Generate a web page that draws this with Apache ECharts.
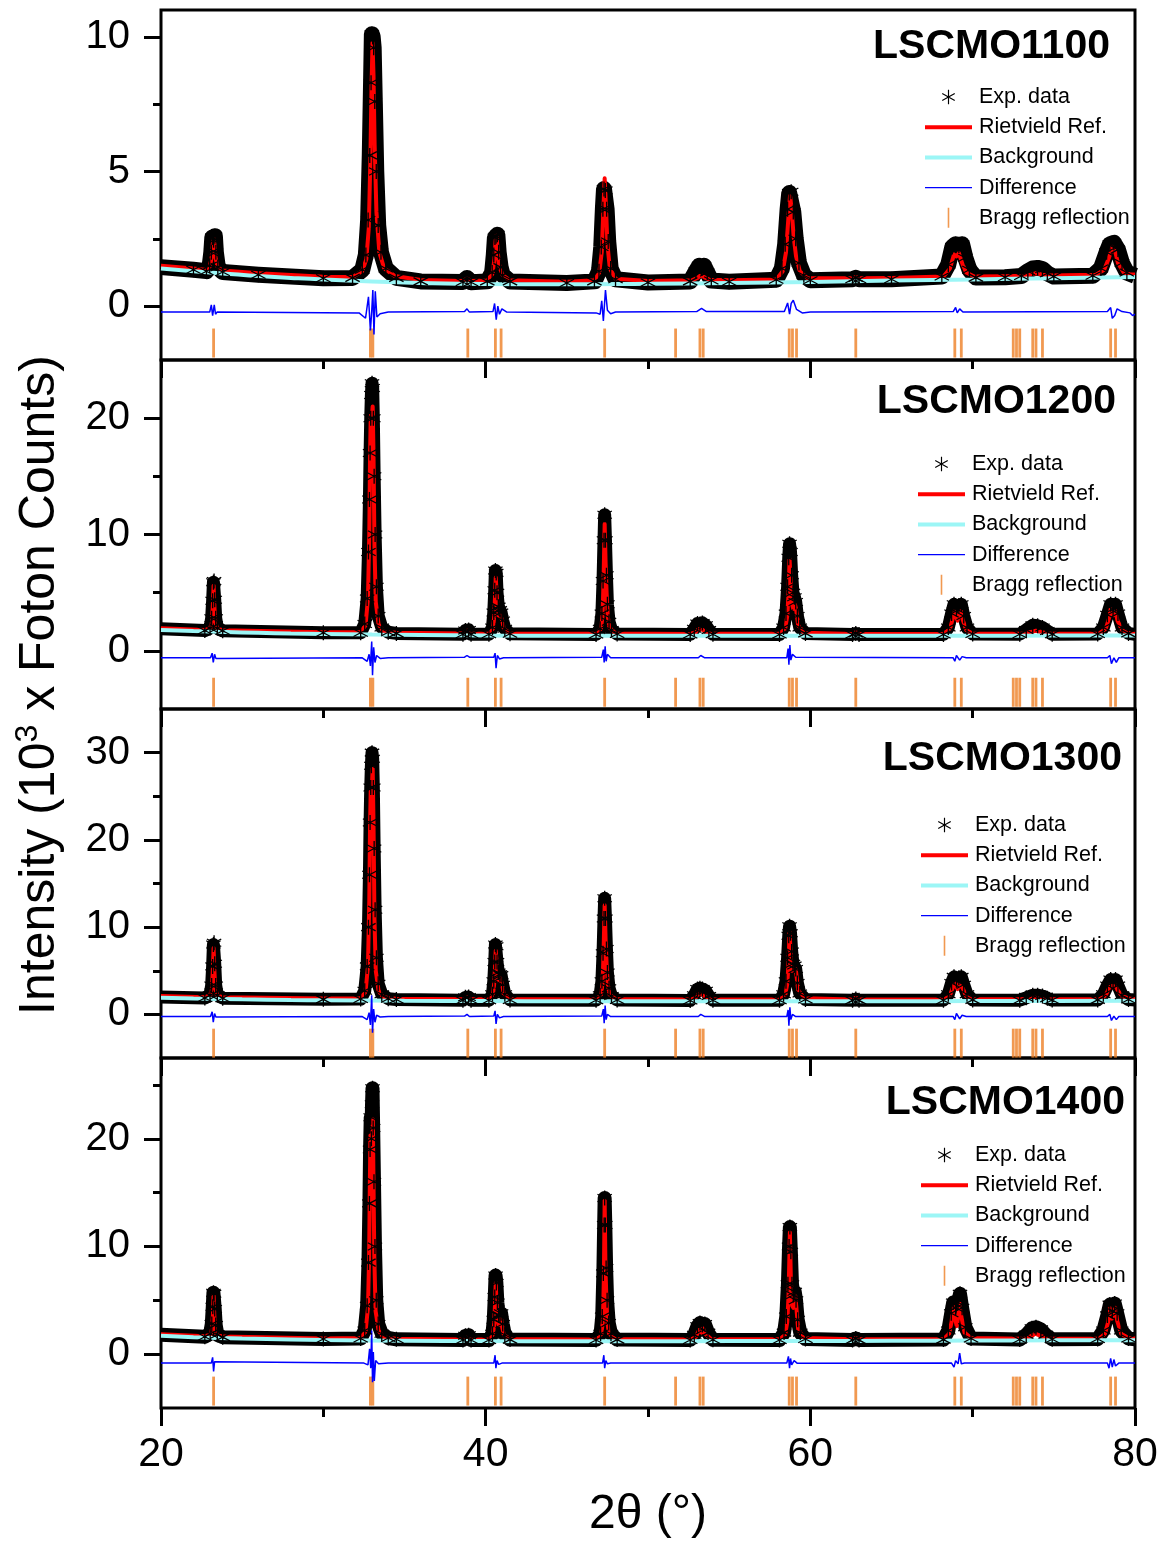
<!DOCTYPE html>
<html>
<head>
<meta charset="utf-8">
<script src="https://cdn.jsdelivr.net/npm/echarts@6/dist/echarts.min.js"></script>
<style>html,body{margin:0;padding:0;background:#fff}#c{width:1163px;height:1542px}</style>
</head>
<body>
<div id="c"></div>
<script>
// ---------------- DATA ----------------
const panels = ['LSCMO1100', 'LSCMO1200', 'LSCMO1300', 'LSCMO1400'];
const yMin = [-2, -5, -5, -5];
const yMax = [11, 25, 35, 27.5];
const yMajorTicks = [[0, 5, 10], [0, 10, 20], [0, 10, 20, 30], [0, 10, 20]];
const yMinorTicks = [[2.5, 7.5], [5, 15], [5, 15, 25], [5, 15, 25]];
const braggPos = [23.24, 32.9, 33.05, 38.9, 40.6, 40.95, 47.33, 51.7, 53.2, 53.4, 58.7, 58.9, 59.15, 62.8,
  68.9, 69.3, 72.5, 72.7, 72.9, 73.7, 73.9, 74.3, 78.5, 78.8];
const braggLevel = [-1.37, -3.56, -3.3, -3.43];

const bg1100 = [[20,1.40],[22,1.30],[24,1.20],[26,1.12],[28,1.05],[30,0.99],[33,0.92],[36,0.86],[40,0.82],[45,0.81],[50,0.83],[55,0.86],[60,0.90],[65,0.95],[70,0.99],[75,1.04],[80,1.08]];
const calc1100 = [[20,1.50],[22,1.40],[22.8,1.34],[23.0,1.45],[23.12,1.80],[23.19,2.30],[23.24,2.53],[23.29,2.30],[23.36,1.80],[23.48,1.45],[23.8,1.32],
[26,1.22],[30,1.09],[31.8,1.08],[32.4,1.30],[32.65,1.75],[32.8,2.9],[32.9,5.5],[32.97,8.2],[33.03,9.78],[33.09,8.6],[33.16,6.0],[33.27,3.5],[33.45,2.0],[33.75,1.4],[34.4,1.12],
[36,0.97],[38.6,0.93],[38.85,1.03],[39.1,0.93],
[40.1,0.95],[40.42,1.2],[40.54,1.75],[40.61,2.4],[40.66,2.64],[40.72,2.25],[40.8,1.6],[40.92,1.35],[41.05,1.15],[41.5,0.96],
[45,0.91],[46.7,0.96],[47.0,1.25],[47.15,2.0],[47.25,3.6],[47.33,4.75],[47.41,3.7],[47.5,2.3],[47.65,1.4],[48.0,1.02],
[50,0.93],[52.7,0.96],[53.05,1.05],[53.25,1.15],[53.45,1.08],[53.8,0.98],
[55,0.96],[57.9,0.99],[58.3,1.3],[58.5,2.0],[58.65,3.3],[58.75,4.1],[58.85,3.6],[58.97,2.6],[59.12,1.85],[59.35,1.3],[59.8,1.05],
[62.6,1.04],[62.8,1.08],[63.0,1.04],
[65,1.05],[68.2,1.1],[68.6,1.4],[68.85,1.92],[69.0,1.85],[69.15,1.97],[69.35,1.6],[69.6,1.25],[70.1,1.1],
[72,1.11],[73.2,1.13],[73.6,1.18],[73.9,1.22],[74.3,1.17],[74.8,1.14],
[77.6,1.17],[78.1,1.35],[78.4,1.8],[78.6,2.2],[78.75,2.1],[78.95,1.6],[79.3,1.25],[79.7,1.18],[80,1.18]];
const exp1100 = [[20,1.45],[22,1.35],[22.8,1.30],[23.0,1.50],[23.1,2.0],[23.16,2.55],[23.24,2.45],[23.32,2.6],[23.38,2.0],[23.5,1.45],[23.8,1.27],
[26,1.17],[30,1.04],[31.8,1.05],[32.4,1.35],[32.62,1.9],[32.76,3.2],[32.86,5.6],[32.94,8.3],[32.99,10.1],[33.04,10.0],[33.1,9.6],[33.17,7.6],[33.26,5.0],[33.38,3.0],[33.55,2.0],[33.85,1.4],[34.5,1.05],
[36,0.92],[38.6,0.90],[38.85,1.05],[39.1,0.89],
[40.1,0.92],[40.4,1.25],[40.5,1.9],[40.57,2.55],[40.64,2.6],[40.72,2.65],[40.8,2.0],[40.92,1.45],[41.05,1.15],[41.5,0.92],
[45,0.86],[46.7,0.92],[46.98,1.3],[47.12,2.2],[47.22,3.6],[47.29,4.35],[47.37,4.3],[47.45,3.6],[47.55,2.4],[47.7,1.4],[48.0,1.0],
[50,0.88],[52.6,0.92],[52.95,1.3],[53.15,1.5],[53.3,1.4],[53.45,1.5],[53.65,1.25],[53.9,0.95],
[55,0.91],[57.9,0.98],[58.25,1.4],[58.45,2.3],[58.6,3.6],[58.7,4.2],[58.82,4.25],[58.95,3.5],[59.1,2.5],[59.3,1.6],[59.6,1.15],[60.0,0.96],
[62.6,1.0],[62.8,1.05],[63.0,1.0],
[65,1.0],[68.1,1.1],[68.5,1.55],[68.75,2.2],[68.95,2.3],[69.15,2.25],[69.35,2.3],[69.55,1.8],[69.8,1.35],[70.2,1.06],
[72,1.07],[73.0,1.12],[73.4,1.3],[73.7,1.4],[74.0,1.42],[74.3,1.38],[74.6,1.22],[75.0,1.1],
[77.4,1.13],[77.9,1.4],[78.25,2.0],[78.45,2.3],[78.7,2.35],[78.95,2.1],[79.2,1.6],[79.5,1.25],[80,1.13]];
const diff1100 = [[20,-0.22],[23.0,-0.22],[23.1,0.05],[23.18,-0.35],[23.28,0.05],[23.36,-0.3],[23.45,-0.22],[32.2,-0.25],[32.6,-0.45],[32.78,0.35],[32.9,-0.9],[32.98,-0.2],[33.05,0.6],[33.12,-1.05],[33.2,0.55],[33.3,-0.4],[33.5,-0.28],[34,-0.22],[38.7,-0.2],[38.85,-0.1],[39,-0.22],[40.45,-0.2],[40.55,0.1],[40.65,-0.5],[40.75,0.0],[40.85,-0.3],[41.0,-0.1],[41.3,-0.22],[46.8,-0.25],[47.05,-0.3],[47.15,0.2],[47.25,-0.55],[47.38,0.6],[47.5,-0.15],[47.7,-0.28],[48,-0.22],[53.0,-0.2],[53.3,-0.08],[53.6,-0.2],[58.4,-0.2],[58.6,0.12],[58.72,-0.3],[58.82,0.1],[58.95,0.22],[59.15,-0.12],[59.5,-0.25],[60,-0.22],[68.8,-0.2],[68.95,-0.05],[69.05,-0.25],[69.2,-0.1],[69.4,-0.22],[78.3,-0.2],[78.5,-0.05],[78.6,-0.45],[78.75,-0.35],[78.9,-0.1],[79.2,-0.2],[79.7,-0.25],[79.85,-0.35],[80,-0.3]];

const bg1200 = [[20,1.80],[22,1.70],[24,1.62],[26,1.55],[28,1.49],[30,1.45],[33,1.40],[36,1.36],[40,1.32],[45,1.30],[50,1.29],[55,1.29],[60,1.29],[65,1.30],[70,1.30],[75,1.31],[80,1.32]];
const calc1200 = [[20,1.95],[22.7,1.79],[23.04,1.95],[23.14,2.6],[23.19,3.8],[23.24,5.6],[23.29,3.8],[23.34,2.6],[23.44,1.95],[23.8,1.76],
[30,1.60],[32.3,1.6],[32.6,2.2],[32.75,4.5],[32.83,10],[32.88,17],[32.92,20.2],[32.96,19.5],[33.0,20.3],[33.04,21.0],[33.09,17],[33.15,9],[33.23,4.2],[33.4,2.3],[33.7,1.65],[34.5,1.55],
[38.6,1.48],[38.85,1.75],[39.1,1.48],
[40.2,1.47],[40.45,1.9],[40.53,3.0],[40.58,4.8],[40.62,6.3],[40.67,5.2],[40.73,3.6],[40.8,3.0],[40.88,3.2],[40.95,3.2],[41.02,2.6],[41.12,1.9],[41.5,1.5],
[46.8,1.46],[47.1,1.85],[47.2,3.0],[47.26,6.0],[47.33,10.9],[47.39,7.5],[47.45,5.0],[47.52,3.0],[47.62,2.0],[48.0,1.5],
[52.6,1.45],[52.95,1.6],[53.1,1.9],[53.2,1.95],[53.3,1.85],[53.4,1.9],[53.55,1.65],[53.9,1.46],
[58.1,1.46],[58.45,1.9],[58.58,3.0],[58.66,5.0],[58.72,7.9],[58.79,6.0],[58.87,4.0],[58.95,3.6],[59.05,4.0],[59.12,3.6],[59.25,2.2],[59.6,1.55],
[62.6,1.45],[62.8,1.6],[63.0,1.45],
[68.2,1.46],[68.6,1.9],[68.78,2.8],[68.88,3.4],[68.98,2.9],[69.07,2.6],[69.17,3.2],[69.27,3.4],[69.38,2.7],[69.6,1.8],[70,1.5],
[73.0,1.47],[73.5,1.6],[73.9,1.72],[74.3,1.6],[74.8,1.47],
[77.8,1.5],[78.2,1.9],[78.4,2.8],[78.5,3.6],[78.62,3.0],[78.7,2.9],[78.8,3.4],[78.92,2.6],[79.2,1.8],[79.7,1.5],[80,1.47]];
const exp1200 = [[20,1.90],[22.7,1.74],[23.02,1.95],[23.12,2.8],[23.18,4.3],[23.23,5.9],[23.27,6.0],[23.31,4.4],[23.37,2.8],[23.47,1.95],[23.8,1.72],
[30,1.55],[32.3,1.55],[32.55,2.3],[32.7,4.5],[32.78,8.5],[32.84,13],[32.88,17],[32.92,20],[32.96,22.0],[33.0,23.0],[33.04,22.6],[33.08,20],[33.13,15],[33.19,10],[33.27,5.5],[33.38,3.0],[33.6,2.0],[34.0,1.6],[34.5,1.5],
[38.6,1.43],[38.75,1.75],[38.95,1.8],[39.1,1.43],
[40.2,1.42],[40.42,2.0],[40.5,3.3],[40.56,5.2],[40.6,6.9],[40.65,6.7],[40.7,5.0],[40.78,3.8],[40.87,3.5],[40.95,3.3],[41.05,2.6],[41.18,1.9],[41.5,1.46],
[46.8,1.41],[47.05,1.9],[47.16,3.2],[47.23,6.0],[47.29,9.5],[47.33,11.7],[47.38,9.5],[47.44,6.5],[47.5,4.0],[47.6,2.5],[47.75,1.8],[48.1,1.45],
[52.6,1.40],[52.85,1.9],[53.05,2.35],[53.2,2.3],[53.35,2.4],[53.55,2.2],[53.75,1.8],[54.0,1.42],
[58.1,1.41],[58.35,2.0],[58.5,3.2],[58.6,5.5],[58.67,8.0],[58.72,9.2],[58.78,8.5],[58.85,6.5],[58.93,5.0],[59.02,4.6],[59.1,4.2],[59.2,3.0],[59.35,2.0],[59.7,1.5],
[62.6,1.41],[62.8,1.5],[63.0,1.41],
[68.2,1.41],[68.5,2.0],[68.7,3.2],[68.85,4.0],[69.0,3.6],[69.15,3.9],[69.3,4.0],[69.45,3.0],[69.65,2.0],[70.0,1.45],
[72.9,1.43],[73.3,1.8],[73.7,2.2],[74.0,2.15],[74.3,2.0],[74.6,1.7],[74.9,1.43],
[77.7,1.45],[78.05,2.0],[78.3,3.1],[78.5,4.0],[78.65,3.6],[78.8,4.0],[78.95,3.2],[79.2,2.0],[79.6,1.5],[80,1.42]];
const diff1200 = [[20,-0.6],[23.05,-0.6],[23.15,-0.2],[23.22,-1.0],[23.3,-0.3],[23.38,-0.65],[32.4,-0.6],[32.7,-0.9],[32.82,-0.3],[32.9,-1.3],[32.98,0.8],[33.03,-2.1],[33.1,0.3],[33.18,-1.0],[33.28,-0.4],[33.5,-0.65],[34,-0.6],[38.7,-0.55],[38.85,-0.4],[39,-0.55],[40.5,-0.55],[40.58,-0.2],[40.64,-1.5],[40.72,-0.4],[40.85,-0.7],[41.1,-0.6],[47.15,-0.55],[47.25,0.1],[47.3,-1.0],[47.36,0.4],[47.42,-0.9],[47.5,-0.3],[47.7,-0.6],[53.1,-0.6],[53.25,-0.4],[53.5,-0.6],[58.55,-0.6],[58.63,0.2],[58.68,-1.2],[58.74,0.5],[58.8,-0.8],[58.9,-0.3],[59.1,-0.55],[68.8,-0.6],[68.9,-0.9],[69.0,-0.4],[69.2,-0.8],[69.35,-0.5],[69.6,-0.6],[78.3,-0.6],[78.45,-0.4],[78.55,-1.1],[78.7,-0.6],[78.85,-1.0],[79.0,-0.6],[80,-0.6]];

const bg1300 = [[20,1.90],[22,1.82],[25,1.72],[28,1.65],[30,1.62],[35,1.56],[40,1.52],[45,1.50],[50,1.50],[55,1.50],[60,1.50],[65,1.51],[70,1.52],[75,1.53],[80,1.55]];
const calc1300 = [[20,2.10],[22.7,1.97],[23.04,2.2],[23.14,3.1],[23.19,5.0],[23.24,7.6],[23.29,5.0],[23.34,3.1],[23.44,2.2],[23.8,1.95],
[30,1.82],[32.3,1.85],[32.6,2.6],[32.75,5.5],[32.83,13],[32.88,22],[32.92,25.7],[32.96,25],[33.0,26.5],[33.04,28.2],[33.09,22],[33.15,11],[33.23,5.0],[33.4,2.7],[33.7,1.95],[34.5,1.78],
[38.6,1.72],[38.85,2.0],[39.1,1.72],
[40.2,1.72],[40.45,2.3],[40.53,3.6],[40.58,5.6],[40.62,7.3],[40.67,6.0],[40.73,4.4],[40.8,3.8],[40.88,4.3],[40.95,4.5],[41.02,3.4],[41.12,2.3],[41.5,1.75],
[46.8,1.71],[47.1,2.2],[47.2,3.5],[47.26,7.0],[47.33,12.5],[47.39,8.5],[47.45,5.8],[47.52,3.5],[47.62,2.3],[48.0,1.75],
[52.6,1.70],[52.95,1.95],[53.1,2.35],[53.2,2.4],[53.3,2.3],[53.4,2.4],[53.55,2.05],[53.9,1.72],
[58.1,1.71],[58.45,2.2],[58.58,3.5],[58.66,6.0],[58.72,9.4],[58.79,7.0],[58.87,5.0],[58.95,4.8],[59.05,5.6],[59.12,4.9],[59.25,2.8],[59.6,1.85],
[62.6,1.7],[62.8,1.9],[63.0,1.7],
[68.2,1.72],[68.6,2.2],[68.78,3.1],[68.88,3.7],[68.98,3.2],[69.07,2.9],[69.17,3.5],[69.27,3.7],[69.38,3.0],[69.6,2.1],[70,1.75],
[73.0,1.73],[73.5,1.8],[73.9,1.9],[74.3,1.8],[74.8,1.74],
[77.8,1.76],[78.2,2.2],[78.4,3.0],[78.5,3.4],[78.62,3.1],[78.7,3.0],[78.8,3.4],[78.92,2.8],[79.2,2.1],[79.7,1.78],[80,1.77]];
const exp1300 = [[20,2.0],[22.7,1.88],[23.02,2.2],[23.12,3.3],[23.18,5.5],[23.23,8.0],[23.27,8.2],[23.31,5.8],[23.37,3.3],[23.47,2.2],[23.8,1.86],
[30,1.72],[32.3,1.75],[32.55,2.7],[32.7,5.5],[32.78,10],[32.84,16],[32.88,22],[32.92,26],[32.96,28.5],[33.0,30.0],[33.04,29.3],[33.08,26],[33.13,19],[33.19,12],[33.27,6.5],[33.38,3.5],[33.6,2.3],[34.0,1.8],[34.5,1.7],
[38.6,1.63],[38.75,1.95],[38.95,2.0],[39.1,1.63],
[40.2,1.62],[40.42,2.3],[40.5,3.8],[40.56,6.0],[40.6,8.0],[40.65,7.8],[40.7,6.0],[40.78,4.8],[40.87,4.6],[40.95,4.5],[41.05,3.4],[41.18,2.3],[41.5,1.65],
[46.8,1.61],[47.05,2.2],[47.16,3.8],[47.23,7.0],[47.29,11.0],[47.33,13.3],[47.38,11.0],[47.44,7.5],[47.5,4.8],[47.6,3.0],[47.75,2.1],[48.1,1.65],
[52.6,1.60],[52.85,2.2],[53.05,2.9],[53.2,3.0],[53.35,2.9],[53.55,2.7],[53.75,2.1],[54.0,1.62],
[58.1,1.61],[58.35,2.3],[58.5,3.8],[58.6,6.5],[58.67,9.0],[58.72,10.1],[58.78,9.3],[58.85,7.2],[58.93,5.8],[59.02,5.6],[59.1,5.2],[59.2,3.6],[59.35,2.4],[59.7,1.7],
[62.6,1.61],[62.8,1.75],[63.0,1.61],
[68.2,1.62],[68.5,2.3],[68.7,3.6],[68.85,4.3],[69.0,3.9],[69.15,4.2],[69.3,4.3],[69.45,3.4],[69.65,2.3],[70.0,1.66],
[72.9,1.63],[73.3,1.9],[73.7,2.2],[74.0,2.2],[74.3,2.1],[74.6,1.85],[74.9,1.64],
[77.7,1.66],[78.05,2.3],[78.3,3.3],[78.5,4.0],[78.65,3.7],[78.8,4.0],[78.95,3.3],[79.2,2.2],[79.6,1.7],[80,1.65]];
const diff1300 = [[20,-0.25],[23.05,-0.25],[23.15,0.3],[23.22,-0.9],[23.3,0.1],[23.38,-0.3],[32.4,-0.25],[32.7,-0.6],[32.82,0.2],[32.9,-1.2],[32.98,2.2],[33.03,-2.1],[33.1,0.6],[33.18,-0.9],[33.28,-0.1],[33.5,-0.3],[34,-0.25],[38.7,-0.2],[38.85,0.0],[39,-0.25],[40.5,-0.2],[40.58,0.4],[40.64,-1.1],[40.72,0.0],[40.85,-0.4],[41.1,-0.25],[47.15,-0.2],[47.25,0.6],[47.3,-1.0],[47.36,1.0],[47.42,-0.6],[47.5,0.0],[47.7,-0.25],[53.1,-0.25],[53.25,0.0],[53.5,-0.25],[58.55,-0.25],[58.63,0.5],[58.68,-1.3],[58.74,0.8],[58.8,-0.6],[58.9,0.0],[59.1,-0.25],[68.8,-0.25],[68.9,-0.6],[69.0,0.1],[69.2,-0.5],[69.35,-0.1],[69.6,-0.25],[78.3,-0.25],[78.45,0.0],[78.55,-0.7],[78.7,-0.2],[78.85,-0.6],[79.0,-0.25],[80,-0.25]];

const bg1400 = [[20,1.70],[22,1.58],[25,1.45],[28,1.36],[30,1.31],[35,1.25],[40,1.21],[45,1.20],[50,1.20],[55,1.21],[60,1.22],[65,1.24],[70,1.26],[75,1.28],[80,1.30]];
const calc1400 = [[20,1.85],[22.7,1.66],[23.06,1.8],[23.15,2.5],[23.2,3.7],[23.24,5.5],[23.28,3.7],[23.33,2.5],[23.42,1.8],[23.8,1.63],
[30,1.46],[32.3,1.5],[32.6,2.1],[32.75,4.3],[32.82,9],[32.86,15],[32.9,20.3],[32.94,19.5],[32.98,17],[33.02,19],[33.05,21.8],[33.09,16],[33.14,9],[33.22,4.0],[33.4,2.2],[33.7,1.55],[34.5,1.42],
[38.6,1.37],[38.85,1.6],[39.1,1.37],
[40.2,1.37],[40.45,1.8],[40.53,2.9],[40.58,4.8],[40.62,6.6],[40.66,5.0],[40.72,3.4],[40.8,2.7],[40.88,3.2],[40.95,3.4],[41.02,2.5],[41.12,1.8],[41.5,1.4],
[46.8,1.36],[47.12,1.8],[47.22,3.0],[47.28,7.0],[47.33,14.3],[47.38,8.0],[47.44,5.0],[47.5,2.9],[47.6,1.9],[48.0,1.4],
[52.6,1.36],[52.95,1.6],[53.1,2.1],[53.2,2.4],[53.3,2.0],[53.4,2.4],[53.52,1.9],[53.9,1.38],
[58.1,1.38],[58.45,1.8],[58.58,3.0],[58.66,5.5],[58.74,11.3],[58.8,7.0],[58.88,4.5],[58.96,4.3],[59.06,5.5],[59.13,4.5],[59.25,2.3],[59.6,1.5],
[62.6,1.38],[62.8,1.5],[63.0,1.38],
[68.2,1.4],[68.55,1.9],[68.7,3.0],[68.8,4.4],[68.9,3.4],[69.02,2.6],[69.12,3.6],[69.2,4.7],[69.3,3.5],[69.5,2.0],[69.9,1.5],
[73.0,1.42],[73.5,1.6],[73.85,1.9],[74.2,1.7],[74.7,1.44],
[77.8,1.46],[78.15,1.9],[78.35,3.0],[78.45,4.3],[78.58,3.3],[78.68,3.2],[78.8,4.3],[78.9,3.1],[79.15,1.9],[79.6,1.5],[80,1.45]];
const exp1400 = [[20,1.80],[22.7,1.61],[23.03,1.9],[23.13,2.8],[23.19,4.4],[23.23,5.7],[23.27,5.6],[23.31,4.2],[23.37,2.7],[23.47,1.8],[23.8,1.58],
[30,1.41],[32.3,1.45],[32.55,2.2],[32.7,4.5],[32.78,8.5],[32.84,14],[32.88,19],[32.92,22],[32.96,20],[33.0,23.2],[33.03,24.7],[33.07,21],[33.12,16],[33.18,10],[33.26,5.0],[33.38,2.8],[33.6,1.9],[34.0,1.5],[34.5,1.38],
[38.6,1.32],[38.75,1.7],[38.95,1.75],[39.1,1.32],
[40.2,1.32],[40.42,1.9],[40.5,3.2],[40.56,5.3],[40.61,7.3],[40.66,6.6],[40.72,4.8],[40.8,3.6],[40.88,3.6],[40.95,3.8],[41.05,2.8],[41.18,1.8],[41.5,1.35],
[46.8,1.31],[47.08,1.9],[47.18,3.5],[47.25,7.5],[47.3,12],[47.33,14.5],[47.37,12],[47.42,8.0],[47.48,5.0],[47.58,2.9],[47.72,1.9],[48.1,1.35],
[52.6,1.31],[52.85,1.8],[53.05,2.6],[53.2,2.9],[53.35,2.7],[53.5,2.8],[53.7,2.0],[54.0,1.33],
[58.1,1.32],[58.38,2.0],[58.52,3.5],[58.62,6.5],[58.69,10],[58.74,11.8],[58.8,9.5],[58.87,6.5],[58.95,5.5],[59.04,5.8],[59.12,5.0],[59.22,3.2],[59.38,2.0],[59.7,1.4],
[62.6,1.32],[62.8,1.45],[63.0,1.32],
[68.2,1.35],[68.5,2.2],[68.68,3.8],[68.8,4.8],[68.95,4.3],[69.1,4.8],[69.22,5.6],[69.35,4.3],[69.55,2.5],[69.9,1.45],
[72.9,1.36],[73.3,1.8],[73.65,2.4],[73.9,2.5],[74.2,2.3],[74.5,1.8],[74.9,1.38],
[77.7,1.4],[78.05,2.2],[78.3,3.6],[78.45,4.6],[78.6,4.0],[78.75,4.7],[78.9,3.8],[79.15,2.2],[79.6,1.45],[80,1.39]];
const diff1400 = [[20,-0.83],[23.1,-0.83],[23.18,-0.3],[23.24,-1.6],[23.3,-0.7],[23.4,-0.85],[32.5,-0.83],[32.75,-1.0],[32.85,0.5],[32.92,-1.3],[32.98,2.2],[33.03,-2.6],[33.08,0.2],[33.14,-2.5],[33.22,-0.6],[33.4,-0.9],[34,-0.83],[40.5,-0.83],[40.58,-0.1],[40.63,-1.3],[40.7,-0.6],[40.8,-0.95],[41.0,-0.83],[47.2,-0.83],[47.28,-0.1],[47.33,-1.3],[47.4,-0.6],[47.5,-0.9],[47.7,-0.83],[58.55,-0.83],[58.65,-0.2],[58.72,-1.3],[58.78,-0.4],[58.85,-1.0],[59.0,-0.6],[59.2,-0.85],[68.7,-0.83],[68.85,-1.2],[68.95,-0.6],[69.1,-0.9],[69.2,0.1],[69.3,-0.9],[69.5,-0.83],[78.3,-0.83],[78.4,-1.3],[78.5,-0.4],[78.6,-1.2],[78.7,-0.5],[78.8,-1.1],[79.0,-0.83],[80,-0.83]];

const expData = [exp1100, exp1200, exp1300, exp1400];
const calcData = [calc1100, calc1200, calc1300, calc1400];
const bgData = [bg1100, bg1200, bg1300, bg1400];
const diffData = [diff1100, diff1200, diff1300, diff1400];

// ---------------- LAYOUT / STYLE ----------------
const FONT = '"Liberation Sans", Arial, Helvetica, sans-serif';
const tops = [10, 360, 709, 1058];
const heights = [350, 349, 349, 350];
const bandWidth = [16, 13, 13, 14];
const legendPos = [[925, 86], [918, 453], [921, 814], [921, 1144]];
const labelPos = [[1110, 47], [1116, 402], [1122, 759], [1125, 1103]];
const C_RED = '#ff0000', C_BG = '#9cf6f6', C_DIFF = '#0000ff', C_BRAGG = '#ee8026';

const AST = [
  [[9.2,0],[10.8,0],[10.8,20],[9.2,20]],
  [[1.64,4.31],[19.06,14.31],[18.26,15.69],[0.94,5.69]],
  [[0.94,14.31],[18.26,4.31],[19.06,5.69],[1.64,15.69]]
];
function polyPath(polys, s, ox, oy) {
  return polys.map(p => 'M' + p.map(q => (q[0]*s+ox).toFixed(2) + ',' + (q[1]*s+oy).toFixed(2)).join('L') + 'Z').join(' ');
}
const DOTS = ' M0,0L0.01,0L0,0.01Z M47,20L46.99,20L47,19.99Z';
const SYM_AST = 'path://' + polyPath(AST, 1, 0, 0);
const ICON_EXP = 'path://' + polyPath(AST, 0.72, 23.5 - 7.2, 2.8) + DOTS;
const ICON_RED = 'path://M0,8L47,8L47,12L0,12Z' + DOTS;
const ICON_BG = 'path://M0,8L47,8L47,12L0,12Z' + DOTS;
const ICON_DIFF = 'path://M0,9.3L47,9.3L47,10.7L0,10.7Z' + DOTS;
const ICON_BRAGG = 'path://M22.7,0L24.3,0L24.3,20L22.7,20Z' + DOTS;

const grid = [], xAxis = [], yAxis = [], series = [], legend = [], graphic = [];
const tickStyle = { width: 3, color: '#000' };

for (let i = 0; i < 4; i++) {
  grid.push({ left: 161, width: 974, top: tops[i], height: heights[i], show: true,
    borderColor: '#000', borderWidth: 3, backgroundColor: 'transparent' });
  xAxis.push({ type: 'value', gridIndex: i, min: 20, max: 80, interval: 20, position: 'bottom',
    axisLine: { show: false, onZero: false },
    axisTick: { show: true, inside: false, length: 18, lineStyle: tickStyle },
    minorTick: { show: true, splitNumber: 2, length: 9, lineStyle: tickStyle },
    splitLine: { show: false }, minorSplitLine: { show: false },
    axisLabel: { show: i === 3, fontSize: 41, color: '#000', fontFamily: FONT, margin: 26 } });
  yAxis.push({ type: 'value', gridIndex: i, min: yMin[i], max: yMax[i], position: 'left',
    axisLine: { show: false, onZero: false },
    axisTick: { show: true, length: 17, lineStyle: tickStyle, customValues: yMajorTicks[i] },
    axisLabel: { show: true, customValues: yMajorTicks[i], fontSize: 40, color: '#000', fontFamily: FONT, margin: 31 },
    splitLine: { show: false } });
  yAxis.push({ type: 'value', gridIndex: i, min: yMin[i], max: yMax[i], position: 'left',
    axisLine: { show: false, onZero: false },
    axisTick: { show: true, length: 8, lineStyle: tickStyle, customValues: yMinorTicks[i] },
    axisLabel: { show: false },
    splitLine: { show: false } });

  const common = { xAxisIndex: i, yAxisIndex: 2 * i, silent: true, animation: false, emphasis: { disabled: true } };
  const ed = expData[i];
  const expItems = ed.map((p, k) => (k === 0 || k === ed.length - 1) ? { value: p, symbol: 'none' } : p);
  series.push(Object.assign({ type: 'line', name: 'Exp. data', data: expItems,
    symbol: SYM_AST, symbolSize: 15, showSymbol: true,
    itemStyle: { color: '#000', borderWidth: 0 },
    lineStyle: { color: '#000', width: bandWidth[i], join: 'round', cap: 'butt' } }, common));
  series.push(Object.assign({ type: 'line', name: 'Rietvield Ref.', data: calcData[i], showSymbol: false, symbol: 'none',
    itemStyle: { color: C_RED }, lineStyle: { color: C_RED, width: 4, join: 'round' } }, common));
  series.push(Object.assign({ type: 'line', name: 'Background', data: bgData[i], showSymbol: false, symbol: 'none', smooth: true,
    itemStyle: { color: C_BG }, lineStyle: { color: C_BG, width: 4 } }, common));
  series.push(Object.assign({ type: 'line', name: 'Difference', data: diffData[i], showSymbol: false, symbol: 'none',
    itemStyle: { color: C_DIFF }, lineStyle: { color: C_DIFF, width: 1.5 } }, common));
  series.push(Object.assign({ type: 'scatter', name: 'Bragg reflection',
    data: braggPos.map(x => [x, braggLevel[i]]),
    symbol: 'rect', symbolSize: [2.8, 29], itemStyle: { color: C_BRAGG } }, common));

  legend.push({ left: legendPos[i][0], top: legendPos[i][1], orient: 'vertical', padding: 0,
    itemWidth: 47, itemHeight: 22, itemGap: 8.2, selectedMode: false, symbolKeepAspect: true,
    textStyle: { fontSize: 21.5, fontFamily: FONT, color: '#000', lineHeight: 22, padding: [0, 0, 0, 2] },
    data: [
      { name: 'Exp. data', icon: ICON_EXP, itemStyle: { color: '#000', borderWidth: 0 } },
      { name: 'Rietvield Ref.', icon: ICON_RED, itemStyle: { color: C_RED, borderWidth: 0 } },
      { name: 'Background', icon: ICON_BG, itemStyle: { color: C_BG, borderWidth: 0 } },
      { name: 'Difference', icon: ICON_DIFF, itemStyle: { color: C_DIFF, borderWidth: 0 } },
      { name: 'Bragg reflection', icon: ICON_BRAGG, itemStyle: { color: C_BRAGG, borderWidth: 0 } }
    ] });

  graphic.push({ type: 'text', x: labelPos[i][0], y: labelPos[i][1], silent: true,
    style: { text: panels[i], fontSize: 41, fontWeight: 'bold', fontFamily: FONT, fill: '#000',
      align: 'right', verticalAlign: 'middle', textAlign: 'right', textVerticalAlign: 'middle' } });
}

graphic.push({ type: 'text', x: 40, y: 685, rotation: Math.PI / 2, silent: true,
  style: { text: '{a|Intensity (10}{s|3}{a| x Foton Counts)}', fill: '#000',
    align: 'center', verticalAlign: 'middle', textAlign: 'center', textVerticalAlign: 'middle',
    rich: { a: { fontSize: 50, fontFamily: FONT, lineHeight: 56, fill: '#000' },
            s: { fontSize: 32, fontFamily: FONT, lineHeight: 24, verticalAlign: 'top', fill: '#000' } } } });
graphic.push({ type: 'text', x: 648, y: 1515, silent: true,
  style: { text: '2θ (°)', fontSize: 48, fontFamily: FONT, fill: '#000',
    align: 'center', verticalAlign: 'middle', textAlign: 'center', textVerticalAlign: 'middle' } });

const chart = echarts.init(document.getElementById('c'), null, { renderer: 'canvas' });
chart.setOption({ animation: false, backgroundColor: '#fff', grid, xAxis, yAxis, series, legend, graphic });
</script>
</body>
</html>
